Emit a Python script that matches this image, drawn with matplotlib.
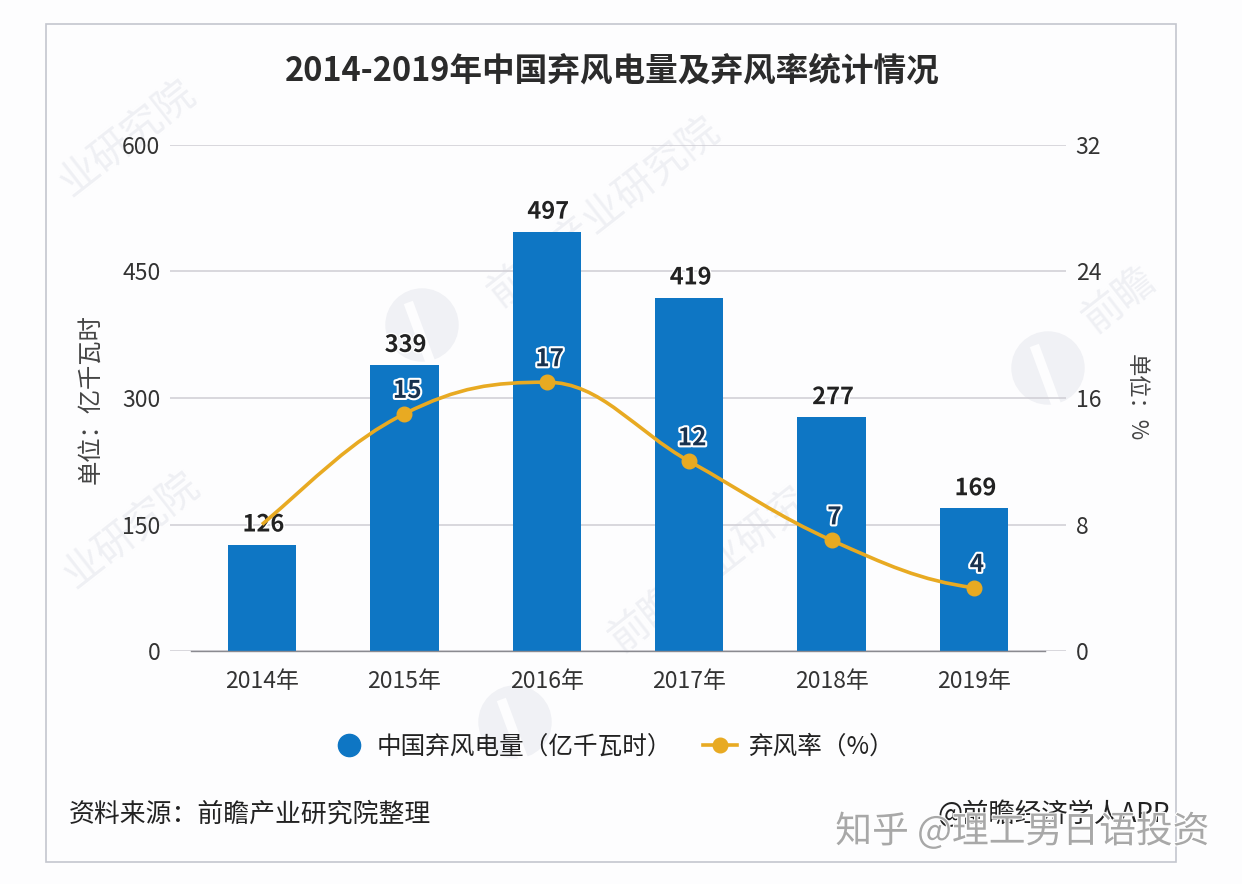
import matplotlib
matplotlib.use('Agg')
import matplotlib.pyplot as plt
import matplotlib.patheffects as pe
from matplotlib.lines import Line2D
from matplotlib.patches import Rectangle, PathPatch, Ellipse
from matplotlib.path import Path

plt.rcParams['font.family'] = ['Noto Sans CJK SC', 'DejaVu Sans']
plt.rcParams['axes.unicode_minus'] = False

years = ['2014年', '2015年', '2016年', '2017年', '2018年', '2019年']
power = [126, 339, 497, 419, 277, 169]
rate = [8, 15, 17, 12, 7, 4]
rate_labels = ['', '15', '17', '12', '7', '4']
left_ticks = [0, 150, 300, 450, 600]
right_ticks = [0, 8, 16, 24, 32]

W, H = 1242, 884
BLUE = '#0e76c4'
GOLD = '#e8aa22'
DARK = '#2b2b2b'
GREY = '#cfcdd4'


def fx(px):
    return px / W


def fy(py):
    return 1 - py / H


fig = plt.figure(figsize=(W / 100, H / 100), dpi=100, facecolor='#fdfdfe')

# 外框
fig.patches.append(Rectangle((fx(46), fy(862)), fx(1130), fy(24) - fy(862), transform=fig.transFigure,
                             fill=False, edgecolor='#c4c6ce', linewidth=1.2, zorder=-2))

# 水印
marks = [(128, 138, '业研究院', 29), (132, 530, '业研究院', 29), (605, 212, '前瞻产业研究院', 29),
         (710, 570, '前瞻产业研究', 29), (1120, 300, '前瞻', 29)]
for mx, my, s, size in marks:
    fig.text(fx(mx), fy(my), s, fontsize=size, color='#eff0f4', rotation=38, rotation_mode='anchor',
             ha='center', va='center', zorder=-1)
for cx, cy, r in [(422, 325, 36), (1048, 368, 36), (515, 722, 36)]:
    fig.patches.append(Ellipse((fx(cx), fy(cy)), 2 * r / W, 2 * r / H, transform=fig.transFigure,
                               color='#f0f1f5', zorder=-1))
    fig.add_artist(Line2D([fx(cx - 12), fx(cx + 8)], [fy(cy - 18), fy(cy + 36)], color='#fdfdfe', linewidth=7,
                          zorder=-0.5))

ax = fig.add_axes([fx(170), fy(651), fx(896), fy(145) - fy(651)])
ax.patch.set_alpha(0)
ax2 = ax.twinx()
ax2.patch.set_alpha(0)

x = list(range(len(years)))
ax.bar(x, power, width=0.48, color=BLUE, zorder=3)
ax.set_xlim(-0.646, 5.646)
ax.set_ylim(0, 600)
ax.set_yticks(left_ticks)
ax.set_xticks(x)
ax.set_xticklabels(years)
ax.grid(axis='y', color=GREY, linewidth=1.1, zorder=1)
ax.set_axisbelow(True)
ax.tick_params(axis='both', length=0, labelsize=16.5, labelcolor='#333333')
ax.tick_params(axis='x', pad=14)
ax.tick_params(axis='y', pad=7)
for s in ax.spines.values():
    s.set_visible(False)
ax.plot([-0.5, 5.5], [0, 0], color='#8a8a90', linewidth=1, zorder=4, clip_on=False)

for i, v in enumerate(power):
    ax.text(i + 0.01, v + 24, str(v), ha='center', va='center', fontsize=17, fontweight='bold',
            color='#222222', zorder=6,
            path_effects=[pe.withStroke(linewidth=2, foreground='white')])

ax2.set_ylim(0, 32)
ax2.set_yticks(right_ticks)
ax2.tick_params(axis='y', length=0, labelsize=16.5, labelcolor='#333333', pad=7)
for s in ax2.spines.values():
    s.set_visible(False)


# 平滑曲线，极值点处切线水平
def slope(i):
    if i == 0:
        return (rate[1] - rate[0]) * 1.1
    if i == len(rate) - 1:
        return (rate[i] - rate[i - 1]) * 0.4
    if (rate[i] - rate[i - 1]) * (rate[i + 1] - rate[i]) <= 0:
        return 0
    return (rate[i + 1] - rate[i - 1]) / 2


verts = [(x[0], rate[0])]
codes = [Path.MOVETO]
for i in range(len(x) - 1):
    verts.append((x[i] + 0.38, rate[i] + slope(i) * 0.38))
    verts.append((x[i + 1] - 0.38, rate[i + 1] - slope(i + 1) * 0.38))
    verts.append((x[i + 1], rate[i + 1]))
    codes += [Path.CURVE4] * 3
ax2.add_patch(PathPatch(Path(verts, codes), fill=False, edgecolor=GOLD, linewidth=2.6, zorder=5))
ax2.plot(x[1:], rate[1:], linestyle='none', marker='o', markersize=10.5, color=GOLD, zorder=6)

for i, s in enumerate(rate_labels):
    if s:
        ax2.text(i + 0.02, rate[i] + 1.45, s, ha='center', va='center', fontsize=17.5, fontweight='bold',
                 color='#18324f', zorder=7,
                 path_effects=[pe.withStroke(linewidth=3, foreground='white')])

fig.text(fx(612), fy(71), '2014-2019年中国弃风电量及弃风率统计情况', ha='center', va='center',
         fontsize=23.5, fontweight='bold', color=DARK)
fig.text(fx(90), fy(399), '单位：亿千瓦时', rotation=90, ha='center', va='center', fontsize=17.5, color='#444444')
fig.text(fx(1136), fy(398), '单位：%', rotation=270, ha='center', va='center', fontsize=16, color='#444444')

handles = [Line2D([], [], linestyle='none', marker='o', markersize=16, color=BLUE),
           Line2D([], [], color=GOLD, linewidth=2.6, marker='o', markersize=10.5)]
fig.legend(handles, ['中国弃风电量（亿千瓦时）', '弃风率（%）'], loc='center', bbox_to_anchor=(fx(613), fy(747)),
           ncol=2, frameon=False, prop={'size': 17.7, 'weight': 'medium'}, labelcolor='#222222',
           handlelength=1.35, columnspacing=1.26, handletextpad=0.45)

fig.text(fx(69), fy(814), '资料来源：前瞻产业研究院整理', ha='left', va='center', fontsize=18.6, color='#222222')
fig.text(fx(1170), fy(814), '@前瞻经济学人APP', ha='right', va='center', fontsize=19, color='#222222')
fig.text(fx(1209), fy(832), '知乎 @理工男日语投资', ha='right', va='center', fontsize=26.5, color='#a8a8a8',
         path_effects=[pe.withStroke(linewidth=1.5, foreground='white')], zorder=10)

fig.savefig('out.png', dpi=100, facecolor=fig.get_facecolor())
